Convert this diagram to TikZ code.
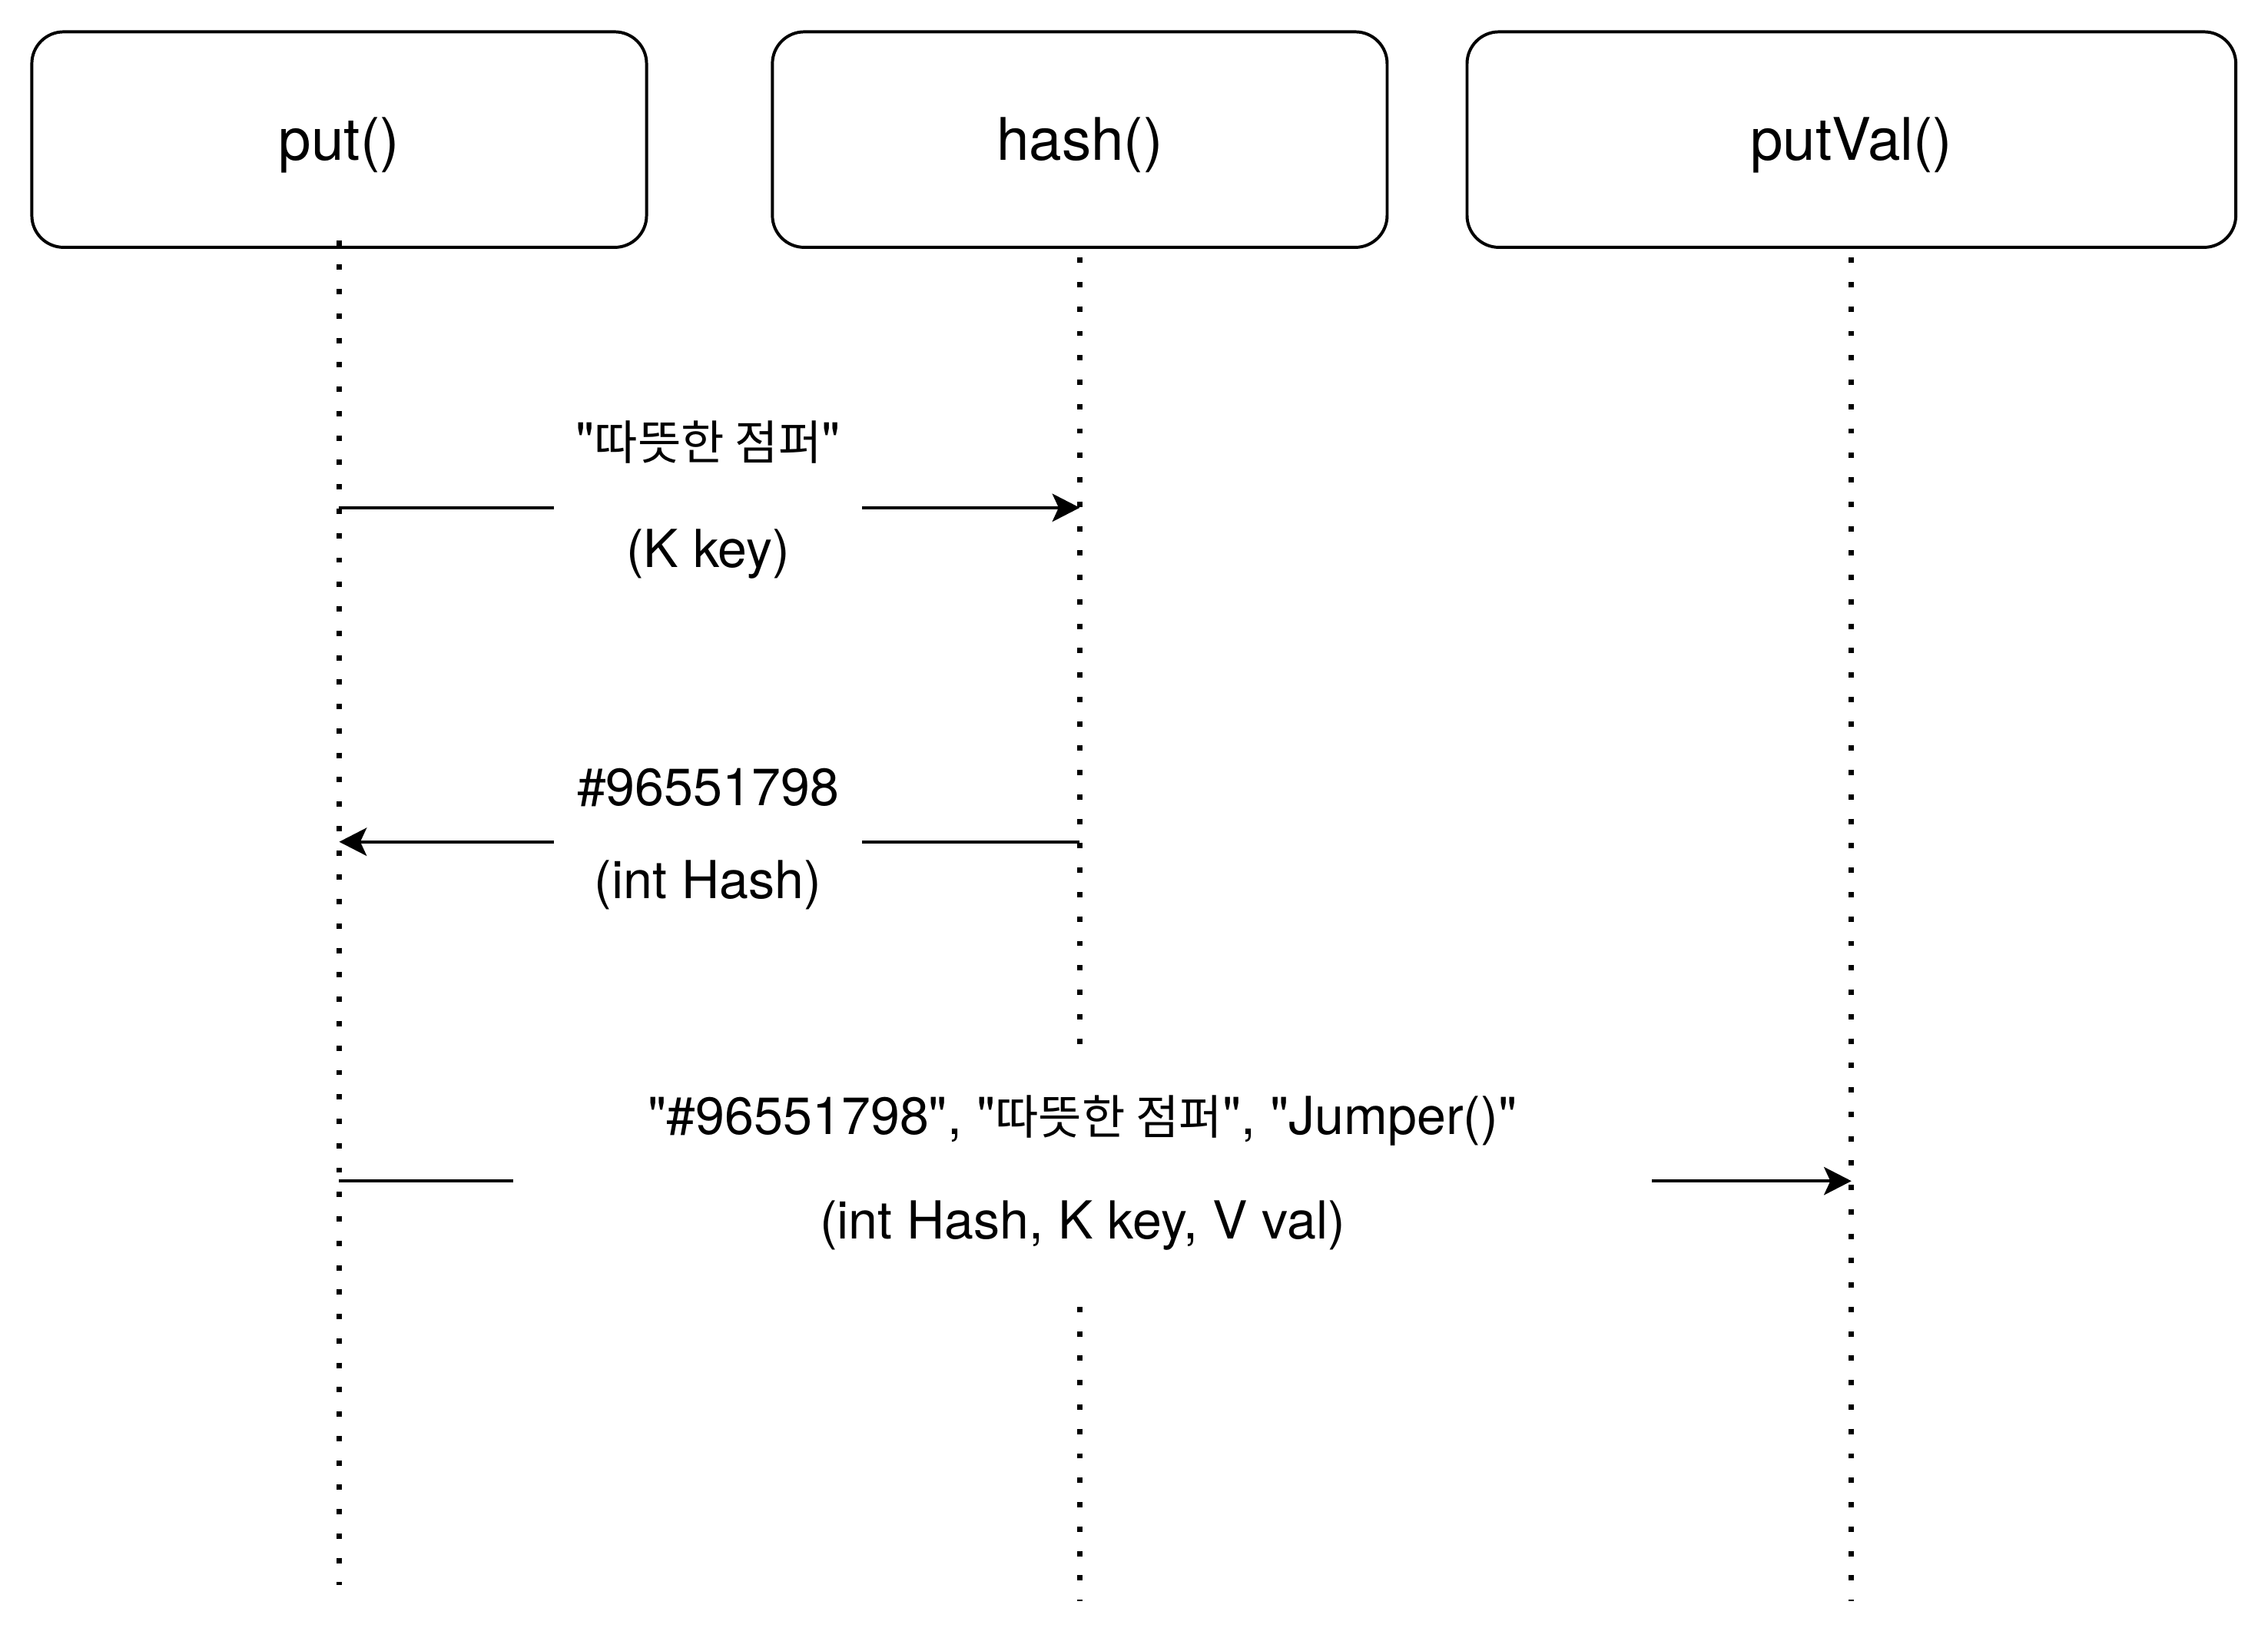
\documentclass[tikz,border=0pt]{standalone}
\usepackage{fontspec}
\setmainfont{TeX Gyre Heros}[Ligatures=TeXOff]
\newfontfamily\kr[Scale=0.9]{Noto Sans CJK KR}
\usetikzlibrary{arrows.meta}

\tikzset{
  objbox/.style={draw, line width=0.6pt, rounded corners=2.2mm, minimum height=14.9mm, text height=3.3mm, text depth=0.46mm, font=\fontsize{11.55pt}{13pt}\selectfont},
  lifeline/.style={line width=1.05pt, dash pattern=on 1.05pt off 3.75pt},
  msg/.style={line width=0.6pt, -{Stealth[length=5.4pt,width=5.5pt,inset=1.25pt]}},
  msglabel/.style={fill=white, align=center, inner sep=0pt, font=\fontsize{10.3pt}{#1}\selectfont}
}

\begin{document}
\begin{tikzpicture}[x=1mm,y=-1mm]
  \useasboundingbox (0,0) rectangle (156.8,113.2);
  % objects
  \node[objbox, minimum width=42.5mm] (put) at (23.45,9.65) {put()};
  \node[objbox, minimum width=42.5mm] (hash) at (74.65,9.65) {hash()};
  \node[objbox, minimum width=53.15mm] (putval) at (128.0,9.65) {putVal()};
  % lifelines
  \coordinate (putend) at (23.45,109.6);
  \coordinate (hashend) at (74.65,110.7);
  \coordinate (putvalend) at (128.0,110.7);
  \draw[lifeline] ([yshift=0.6mm]put.south) -- (putend);
  \draw[lifeline] ([yshift=-0.6mm]hash.south) -- (hashend);
  \draw[lifeline] ([yshift=-0.6mm]putval.south) -- (putvalend);
  % messages
  \draw[msg] (put |- 0,35.1) -- (hash |- 0,35.1);
  \node[msglabel=21.2pt, minimum width=21.3mm] (keyarg) at (48.95,34.55) {"{\kr 따뜻한 점퍼}"\\(K key)};
  \draw[msg] (hash |- 0,58.2) -- (put |- 0,58.2);
  \node[msglabel=18.2pt, minimum width=21.3mm] (hasharg) at (48.95,58.0) {\#96551798\\(int Hash)};
  \draw[msg] (put |- 0,81.65) -- (putval |- 0,81.65);
  \node[msglabel=20.5pt, minimum width=78.7mm, minimum height=17mm] (valarg) at (74.85,81.1) {"\#96551798", "{\kr 따뜻한 점퍼}", "Jumper()"\\(int Hash, K key, V val)};
\end{tikzpicture}
\end{document}
